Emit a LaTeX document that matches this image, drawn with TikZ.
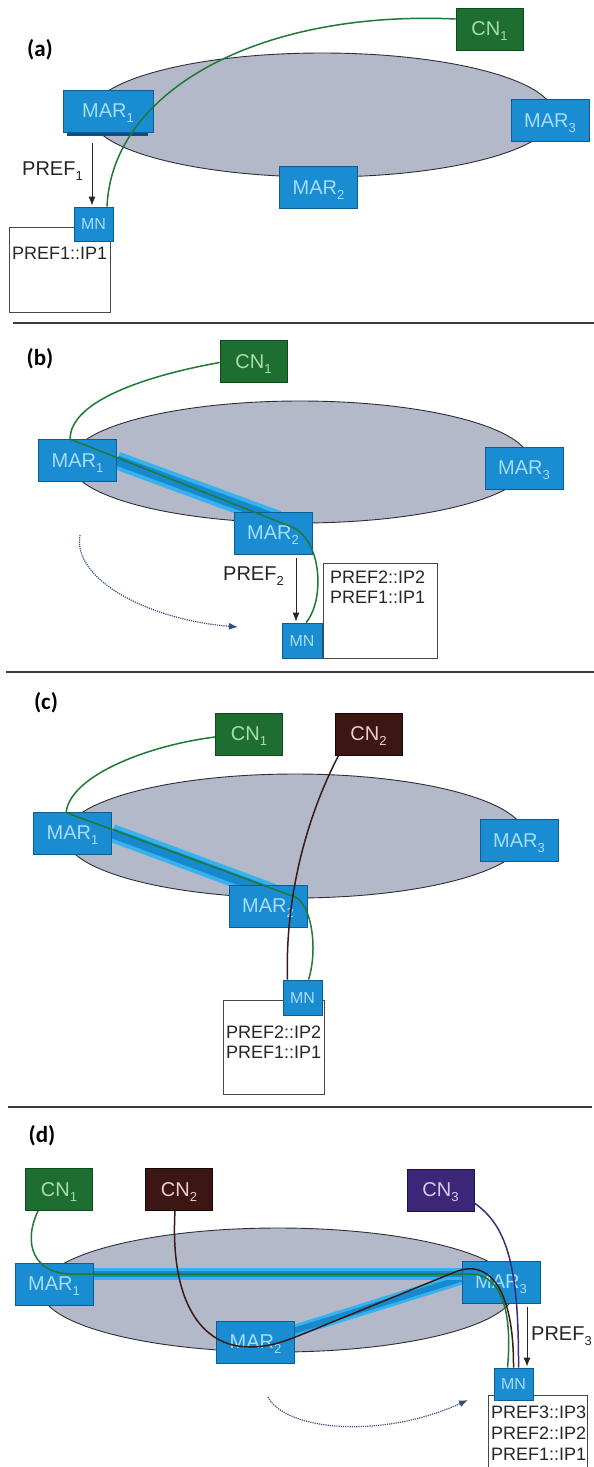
\documentclass[tikz,border=0pt]{standalone}
\usepackage{fontspec}
\setmainfont{Liberation Sans}
\newfontfamily\panelfont{Carlito}
\usetikzlibrary{calc,arrows.meta}
\pgfdeclarelayer{paperlayer}
\pgfdeclarelayer{ringlayer}
\pgfdeclarelayer{bandlayer}
\pgfsetlayers{paperlayer,ringlayer,bandlayer,main}

\definecolor{marfill}{HTML}{1A8CD2}
\definecolor{marline}{HTML}{0B5D96}
\definecolor{martext}{HTML}{A6DDF5}
\definecolor{marshadow}{HTML}{0D4F80}
\definecolor{cngreen}{HTML}{1E6E32}
\definecolor{cngreenline}{HTML}{0F4A1F}
\definecolor{cngreentext}{HTML}{A9DDA9}
\definecolor{cnbrown}{HTML}{3C1612}
\definecolor{cnbrowntext}{HTML}{EBCFCB}
\definecolor{cnpurple}{HTML}{3C2678}
\definecolor{cnpurpletext}{HTML}{D6CCF0}
\definecolor{ringfill}{HTML}{B3B9C9}
\definecolor{ringline}{HTML}{2E2E3A}
\definecolor{bandlight}{HTML}{36B3EE}
\definecolor{banddark}{HTML}{1689CF}
\definecolor{pathgreen}{HTML}{1F7A36}
\definecolor{pathbrown}{HTML}{3A1A14}
\definecolor{pathpurple}{HTML}{3B2B7C}
\definecolor{movecol}{HTML}{3B4D7C}
\definecolor{inkdark}{HTML}{262626}

% lowered index digit as used in the node names
\newcommand\lowidx[1]{\smash{\raisebox{-5pt}{\fontsize{13}{13}\selectfont #1}}}

\tikzset{
  mar/.style={rectangle, draw=marline, fill=marfill, text=martext, line width=0.8pt,
    minimum width=78pt, minimum height=42pt, inner sep=0pt,
    font={\fontsize{20}{22}\selectfont}},
  mnbox/.style={mar, minimum width=39pt, minimum height=34pt,
    font={\fontsize{16}{18}\selectfont}},
  cnbox/.style={rectangle, line width=0.8pt, minimum width=67pt, minimum height=42pt,
    inner sep=0pt, font={\fontsize{20}{22}\selectfont}},
  cngreenbox/.style={cnbox, draw=cngreenline, fill=cngreen, text=cngreentext},
  cnbrownbox/.style={cnbox, draw=black!70!cnbrown, fill=cnbrown, text=cnbrowntext},
  cnpurplebox/.style={cnbox, draw=black!50!cnpurple, fill=cnpurple, text=cnpurpletext},
  addrbox/.style={rectangle, draw=inkdark!85, fill=white, line width=0.8pt, inner sep=0pt},
  addrtext/.style={anchor=base west, inner sep=0pt, text=inkdark,
    font={\fontsize{18}{20}\selectfont}},
  preflabel/.style={anchor=base west, inner sep=0pt, text=inkdark,
    font={\fontsize{20}{22}\selectfont}},
  panellabel/.style={inner sep=0pt, text=black,
    font={\panelfont\bfseries\fontsize{23}{26}\selectfont}},
  ring/.style={draw=ringline, fill=ringfill, line width=0.9pt},
  bandouter/.style={draw=bandlight, line width=18pt},
  bandinner/.style={draw=banddark, line width=10pt},
  thinouter/.style={draw=bandlight, line width=12pt},
  thininner/.style={draw=banddark, line width=6pt},
  greenpath/.style={draw=pathgreen, line width=1.5pt},
  brownpath/.style={draw=pathbrown, line width=1.5pt},
  purplepath/.style={draw=pathpurple, line width=1.5pt},
  prefarrow/.style={draw=inkdark, line width=0.9pt, -{Latex[length=9pt,width=7pt]}},
  movearrow/.style={draw=movecol, line width=1.2pt, densely dotted,
    -{Latex[length=9pt,width=7pt]}},
  divider/.style={draw=inkdark!90, line width=1.4pt},
}

\begin{document}
\begin{tikzpicture}[x=1pt, y=-1pt]
\begin{pgfonlayer}{paperlayer}
  \fill[white] (0,0) rectangle (594,1467);
\end{pgfonlayer}
\useasboundingbox (0,0) rectangle (594,1467);

% ---------------- panel (a) ----------------
\begin{pgfonlayer}{ringlayer}
  \draw[ring] (322,115) ellipse [x radius=232pt, y radius=62pt];
\end{pgfonlayer}
\begin{pgfonlayer}{bandlayer}
  \fill[marshadow] (67,128) rectangle (148,136);
\end{pgfonlayer}
\node[panellabel] (a-tag) at (40,50) {(a)};
\node[mar, minimum width=90pt] (a-mar1) at (108,111) {MAR\lowidx{1}};
\node[mar] (a-mar2) at (318.5,187.5) {MAR\lowidx{2}};
\node[mar] (a-mar3) at (550,120.5) {MAR\lowidx{3}};
\node[cngreenbox] (a-cn1) at (489.5,29) {CN\lowidx{1}};
\node[addrbox, minimum width=101pt, minimum height=85pt] (a-addr) at (59.5,269.5) {};
\node[addrtext] (a-ip1) at (12,259.5) {PREF1::IP1};
\node[mnbox] (a-mn) at (93.5,224) {MN};
\node[preflabel] (a-pref) at (22,175) {PREF\lowidx{1}};
\draw[prefarrow] ($(a-mar1.south)+(-16,11)$) -- ($(a-mn.north)+(-1.5,-1)$);
\draw[greenpath] ($(a-mn.north)+(13.5,0)$) .. controls (112,90) and (260,10) .. ($(a-cn1.west)+(0,-10)$);
\draw[divider] (13,323) -- (594,323);

% ---------------- panel (b) ----------------
\begin{pgfonlayer}{ringlayer}
  \draw[ring] (300,462) ellipse [x radius=230pt, y radius=61pt];
\end{pgfonlayer}
\node[panellabel] (b-tag) at (40,359) {(b)};
\node[cngreenbox] (b-cn1) at (253.5,361.5) {CN\lowidx{1}};
\node[mar] (b-mar1) at (77.5,460.5) {MAR\lowidx{1}};
\node[mar] (b-mar2) at (273,533) {MAR\lowidx{2}};
\node[mar] (b-mar3) at (524,468) {MAR\lowidx{3}};
\node[addrbox, minimum width=114pt, minimum height=95pt] (b-addr) at (380,610.5) {};
\node[addrtext] (b-ip2) at (330,583.5) {PREF2::IP2};
\node[addrtext] (b-ip1) at (330,603.5) {PREF1::IP1};
\node[mnbox, minimum width=40pt, minimum height=35pt] (b-mn) at (302,640.5) {MN};
\node[preflabel] (b-pref) at (223,580) {PREF\lowidx{2}};
\begin{pgfonlayer}{bandlayer}
  \draw[bandouter] (b-mar1.east) -- ($(b-mar2.north)+(5,8)$);
  \draw[bandinner] (b-mar1.east) -- ($(b-mar2.north)+(5,8)$);
\end{pgfonlayer}
\draw[greenpath] ($(b-cn1.west)+(0,1)$) .. controls (150,375) and (70,400) .. ($(b-mar1.north west)+(32,0)$)
  -- (292,527) .. controls (322,540) and (325,600) .. ($(b-mn.north)+(4,0)$);
\draw[prefarrow] ($(b-mar2.south)+(23,4)$) -- ($(b-mn.north)+(-6,-1)$);
\coordinate (b-move-from) at (80,535);
\coordinate (b-move-to) at (238,627);
\draw[movearrow] (b-move-from) .. controls (72,580) and (150,620) .. (b-move-to);
\draw[divider] (6,672) -- (594,672);

% ---------------- panel (c) ----------------
\begin{pgfonlayer}{ringlayer}
  \draw[ring] (295,836) ellipse [x radius=230pt, y radius=62pt];
\end{pgfonlayer}
\node[panellabel] (c-tag) at (46,703) {(c)};
\node[cngreenbox] (c-cn1) at (249,734) {CN\lowidx{1}};
\node[cnbrownbox] (c-cn2) at (368.5,734) {CN\lowidx{2}};
\node[mar] (c-mar1) at (72.5,833) {MAR\lowidx{1}};
\node[mar] (c-mar2) at (268,906) {MAR\lowidx{2}};
\node[mar] (c-mar3) at (519,840.5) {MAR\lowidx{3}};
\node[addrbox, minimum width=101pt, minimum height=94pt] (c-addr) at (273.5,1047) {};
\node[addrtext] (c-ip2) at (226,1038.5) {PREF2::IP2};
\node[addrtext] (c-ip1) at (226,1058.5) {PREF1::IP1};
\node[mnbox, minimum height=35pt] (c-mn) at (302.5,997.5) {MN};
\begin{pgfonlayer}{bandlayer}
  \draw[bandouter] (c-mar1.east) -- ($(c-mar2.north)+(5,8)$);
  \draw[bandinner] (c-mar1.east) -- ($(c-mar2.north)+(5,8)$);
\end{pgfonlayer}
\draw[greenpath] ($(c-cn1.west)+(0,3)$) .. controls (150,745) and (70,775) .. ($(c-mar1.north west)+(33,1)$)
  -- (295,897) .. controls (312,905) and (318,950) .. ($(c-mn.north)+(6,0)$);
\draw[brownpath] ($(c-cn2.south west)+(4,0)$) .. controls (305,820) and (285,900) .. ($(c-mn.north)+(-15,0)$);
\draw[divider] (8,1107) -- (592,1107);

% ---------------- panel (d) ----------------
\begin{pgfonlayer}{ringlayer}
  \draw[ring] (278,1290) ellipse [x radius=237pt, y radius=62pt];
\end{pgfonlayer}
\node[panellabel] (d-tag) at (42,1136) {(d)};
\node[cngreenbox] (d-cn1) at (59,1189.5) {CN\lowidx{1}};
\node[cnbrownbox] (d-cn2) at (179,1189.5) {CN\lowidx{2}};
\node[cnpurplebox] (d-cn3) at (440.5,1190) {CN\lowidx{3}};
\node[mar] (d-mar1) at (54,1284) {MAR\lowidx{1}};
\node[mar] (d-mar2) at (255.5,1342) {MAR\lowidx{2}};
\node[mar] (d-mar3) at (501,1282) {MAR\lowidx{3}};
\node[addrbox, minimum width=99pt, minimum height=85pt] (d-addr) at (537.5,1437.5) {};
\node[addrtext] (d-ip3) at (491,1418.5) {PREF3::IP3};
\node[addrtext] (d-ip2) at (491,1439.5) {PREF2::IP2};
\node[addrtext] (d-ip1) at (491,1460) {PREF1::IP1};
\node[mnbox, minimum height=32pt] (d-mn) at (513.5,1384) {MN};
\node[preflabel] (d-pref) at (531,1340) {PREF\lowidx{3}};
\begin{pgfonlayer}{bandlayer}
  \draw[thinouter] ($(d-mar2.east)+(-8,-9)$) -- ($(d-mar3.west)+(8,-6)$);
  \draw[thininner] ($(d-mar2.east)+(-8,-9)$) -- ($(d-mar3.west)+(8,-6)$);
  \draw[thinouter] ($(d-mar1.east)+(-6,-10)$) -- ($(d-mar3.west)+(6,-8)$);
  \draw[thininner] ($(d-mar1.east)+(-6,-10)$) -- ($(d-mar3.west)+(6,-8)$);
\end{pgfonlayer}
\draw[greenpath] ($(d-cn1.south)+(-21,0)$) .. controls (22,1245) and (35,1273) .. (70,1274)
  -- (470,1274) .. controls (505,1274) and (512,1320) .. ($(d-mn.north)+(-6,0)$);
\draw[brownpath] ($(d-cn2.south)+(-4,0)$) .. controls (170,1300) and (200,1347) .. (250,1347)
  .. controls (270,1347) and (285,1341) .. (298,1336) -- (455,1272)
  .. controls (490,1258) and (514,1290) .. (d-mn.north);
\draw[purplepath] ($(d-cn3.east)+(0,13)$) .. controls (505,1225) and (519,1260) .. ($(d-mn.north)+(5,0)$);
\draw[prefarrow] ($(d-mar3.south)+(26,4)$) -- ($(d-mn.north)+(13.5,-1)$);
\coordinate (d-move-from) at (268,1397);
\coordinate (d-move-to) at (468,1400);
\draw[movearrow] (d-move-from) .. controls (285,1430) and (380,1440) .. (d-move-to);
\end{tikzpicture}
\end{document}
